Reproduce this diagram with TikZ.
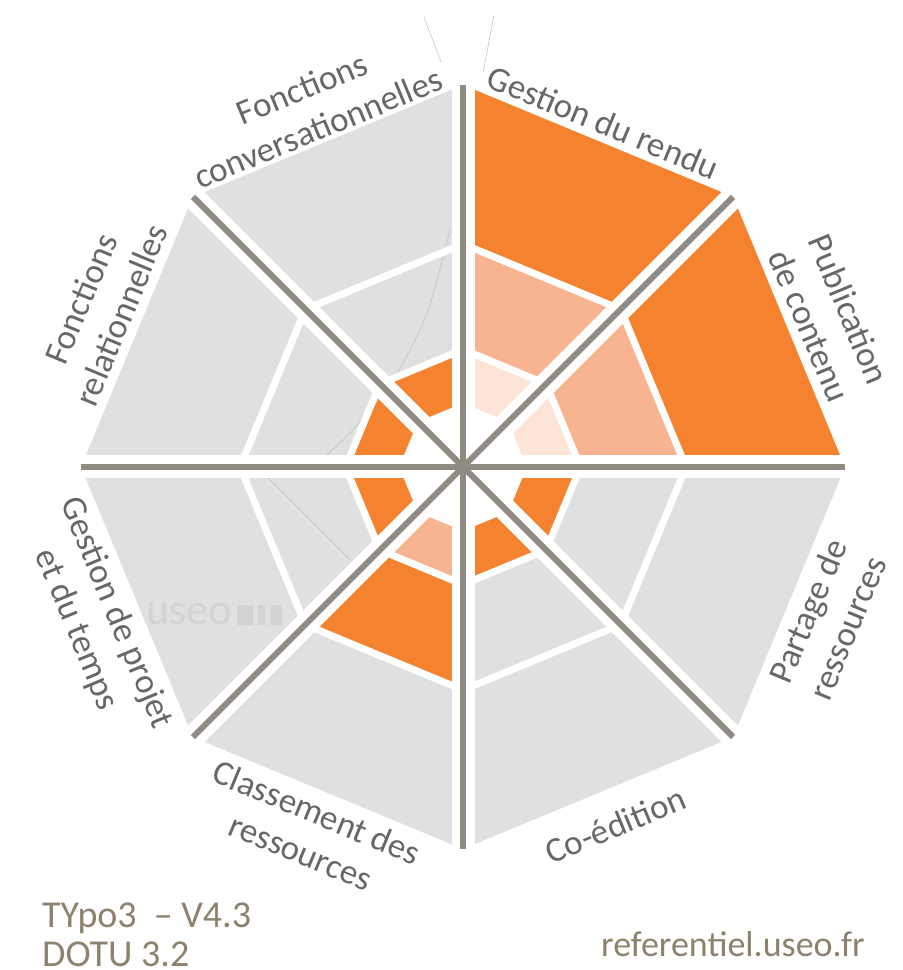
\documentclass[tikz,border=0pt]{standalone}
\usepackage{fontspec}
\setmainfont{Carlito}
\definecolor{dk}{HTML}{F5822F}
\definecolor{md}{HTML}{F8B490}
\definecolor{lt}{HTML}{FDE4D6}
\definecolor{gr}{HTML}{E0E0E0}
\definecolor{dv}{HTML}{8F8B83}
\definecolor{tx}{HTML}{676767}
\definecolor{ft}{HTML}{8C826E}
\definecolor{wm}{HTML}{D3D3D3}
\definecolor{hair}{HTML}{BDBDBD}
\tikzset{
  lbl/.style={text=tx, font=\fontsize{35}{43}\selectfont, align=center, inner sep=0pt},
  foot/.style={text=ft, font=\fontsize{38}{44}\selectfont, inner sep=0pt, anchor=base west},
  hairline/.style={draw=hair, line width=0.5pt}
}
\begin{document}
\begin{tikzpicture}[x=1pt,y=1pt]
\useasboundingbox (0,0) rectangle (903,970);
\begin{scope}[shift={(463,503)}]
  % ring pieces
  \foreach \a/\ca/\cb/\cc in {45/lt/md/dk, 0/lt/md/dk, -45/dk/gr/gr, -90/dk/gr/gr, -135/md/dk/gr, 180/dk/gr/gr, 135/dk/gr/gr, 90/dk/gr/gr} {
    \fill[\ca] (\a:64) -- ({\a+45}:64) -- ({\a+45}:117.5) -- (\a:117.5) -- cycle;
    \fill[\cb] (\a:117.5) -- ({\a+45}:117.5) -- ({\a+45}:223) -- (\a:223) -- cycle;
    \fill[\cc] (\a:223) -- ({\a+45}:223) -- ({\a+45}:382) -- (\a:382) -- cycle;
  }
\end{scope}
% faint hairlines of the original
\draw[hairline] plot[smooth] coordinates {(450,740) (427,657) (393,590) (350,537) (317,507)};
\draw[hairline] (263,497) -- (350,410);
\draw[hairline] (424,953) -- (441,908);
\draw[hairline] (494,955) -- (483,897);
% watermark
\node[text=wm, font=\fontsize{44}{44}\selectfont, inner sep=0pt, anchor=base west] (wmark) at (146,345) {useo};
\fill[wm] (237,345) rectangle (253,365);
\fill[wm] (258,345) rectangle (265,365);
\fill[wm] (270,345) rectangle (282,365);
\begin{scope}[shift={(463,503)}]
  % white gaps between rings
  \draw[white, line width=7pt] (0:117.5) \foreach \t in {45,90,...,315} { -- (\t:117.5) } -- cycle;
  \draw[white, line width=7pt] (0:223) \foreach \t in {45,90,...,315} { -- (\t:223) } -- cycle;
  % white bands and dividers
  \foreach \t in {0,45,90,135} {
    \draw[white, line width=23pt] (\t:392) -- ({\t+180}:392);
  }
  \foreach \t in {0,45,90,135} {
    \draw[dv, line width=6pt] (\t:382) -- ({\t+180}:382);
  }
\end{scope}
% labels
\node[lbl, rotate=22.5] (l8) at (310,862) {Fonctions\\conversationnelles};
\node[lbl, rotate=-22.5] (l1) at (603,848) {Gestion du rendu};
\node[lbl, rotate=-67.5] (l2) at (829.5,652.5) {Publication\\de contenu};
\node[lbl, rotate=67.5] (l3) at (827.5,350.5) {Partage de\\ressources};
\node[lbl, rotate=22.5] (l4) at (615.5,145) {Co-édition};
\node[lbl, rotate=-22.5] (l5) at (309,138) {Classement des\\ressources};
\node[lbl, rotate=-67.5] (l6) at (96,348.5) {Gestion de projet\\et du temps};
\node[lbl, rotate=67.5] (l7) at (101,663) {Fonctions\\relationnelles};
% footer
\node[foot] (f1) at (42,42) {TYpo3\ \ – V4.3};
\node[foot] (f2) at (42,4) {DOTU 3.2};
\node[foot, font=\fontsize{36}{40}\selectfont] (f3) at (601,13) {referentiel.useo.fr};
\end{tikzpicture}
\end{document}
